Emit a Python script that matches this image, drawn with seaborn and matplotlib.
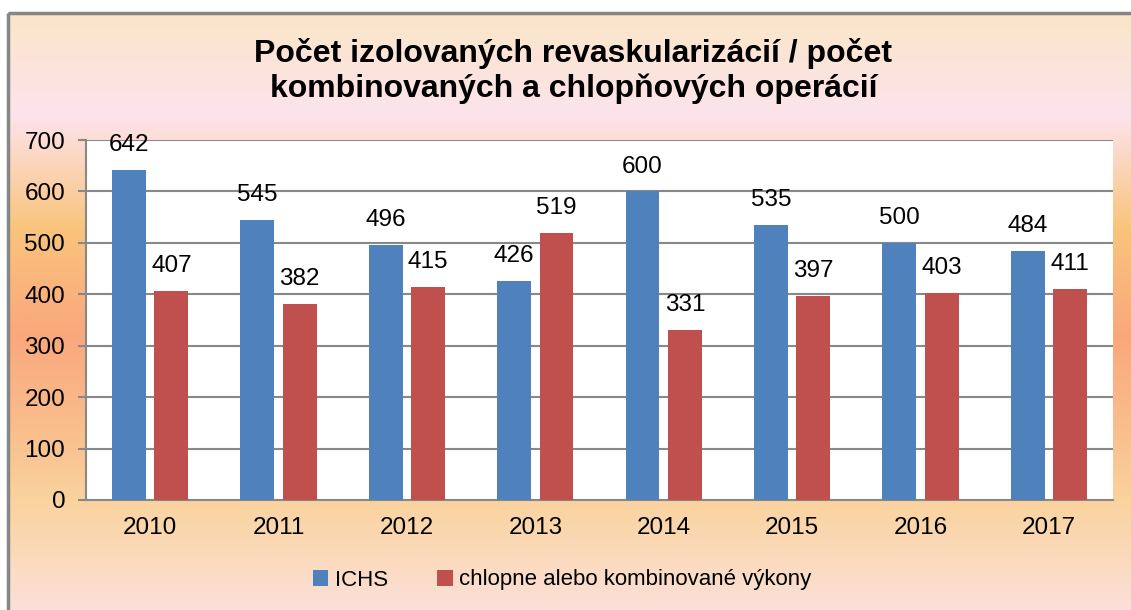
import numpy as np
import pandas as pd
import matplotlib
matplotlib.use("Agg")
import matplotlib.pyplot as plt
from matplotlib.colors import LinearSegmentedColormap
from matplotlib.patches import Rectangle
import seaborn as sns

years = ["2010", "2011", "2012", "2013", "2014", "2015", "2016", "2017"]
ichs = [642, 545, 496, 426, 600, 535, 500, 484]
chlopne = [407, 382, 415, 519, 331, 397, 403, 411]
series_names = ["ICHS", "chlopne alebo kombinované výkony"]
title = "Počet izolovaných revaskularizácií / počet\nkombinovaných a chlopňových operácií"

df = pd.DataFrame({
    "rok": years * 2,
    "pocet": ichs + chlopne,
    "seria": [series_names[0]] * len(years) + [series_names[1]] * len(years),
})

sns.set_theme(style="white")
plt.rcParams["font.family"] = ["Liberation Sans", "DejaVu Sans"]
plt.rcParams["text.color"] = "black"
plt.rcParams["xtick.color"] = "black"
plt.rcParams["ytick.color"] = "black"

W, H = 1131, 610
fig = plt.figure(figsize=(W / 100, H / 100), dpi=100)

# background gradient (chart area fill)
bg = fig.add_axes([0, 0, 1, 1], zorder=0)
stops = [(0.0, "#FAE6C8"), (0.17, "#FDE3EC"), (0.36, "#F9C47C"),
         (0.54, "#FAA87C"), (0.70, "#F9BE8C"), (0.82, "#FAD39E"), (1.0, "#FCE0D8")]
cmap = LinearSegmentedColormap.from_list("bgfill", stops)
grad = np.linspace(0, 1, 400).reshape(-1, 1)
bg.imshow(grad, aspect="auto", cmap=cmap, extent=[8, W + 5, H, 13], origin="upper")
bg.set_xlim(0, W)
bg.set_ylim(H, 0)
bg.add_patch(Rectangle((8, 13), W, H, fill=False, edgecolor="#868686", linewidth=2.5))
bg.axis("off")

ax = fig.add_axes([86 / W, (H - 500) / H, (1113 - 86) / W, 360 / H], zorder=1)
sns.barplot(data=df, x="rok", y="pocet", hue="seria", palette=["#4F81BD", "#C0504D"],
            saturation=1, width=0.66, gap=0.2, linewidth=0, ax=ax, legend=True, zorder=3)

for cont in ax.containers:
    ax.bar_label(cont, fmt="%d", padding=10, fontsize=17.5, color="black")

ax.set_facecolor("white")
ax.set_ylim(0, 700)
ax.set_xlim(-0.5, len(years) - 0.5)
ax.set_yticks(range(0, 701, 100))
ax.yaxis.grid(True, color="#888888", linewidth=1.5, zorder=0)
ax.set_axisbelow(True)
for s in ["top", "right"]:
    ax.spines[s].set_visible(False)
for s in ["left", "bottom"]:
    ax.spines[s].set_color("#888888")
    ax.spines[s].set_linewidth(1.5)
ax.set_xticks(np.arange(-0.5, len(years)), minor=True)
ax.tick_params(axis="x", which="major", length=0, pad=12, labelsize=17.5)
ax.tick_params(axis="x", which="minor", length=6, width=1.5, color="#888888", direction="out")
ax.tick_params(axis="y", length=6, width=1.5, color="#888888", labelcolor="black",
               direction="out", pad=9, labelsize=17.5, left=True)
ax.set_xlabel("")
ax.set_ylabel("")

handles, labels = ax.get_legend_handles_labels()
ax.legend_.remove()
fig.legend(handles, labels, loc="center", bbox_to_anchor=(0.497, (H - 580) / H), ncol=2,
           frameon=False, fontsize=16, handlelength=0.7, handleheight=0.7,
           handletextpad=0.3, columnspacing=2.2)

fig.text(0.507, (H - 71) / H, title, ha="center", va="center", fontsize=23,
         fontweight="bold", linespacing=1.2)

fig.savefig("out.png", dpi=100)
